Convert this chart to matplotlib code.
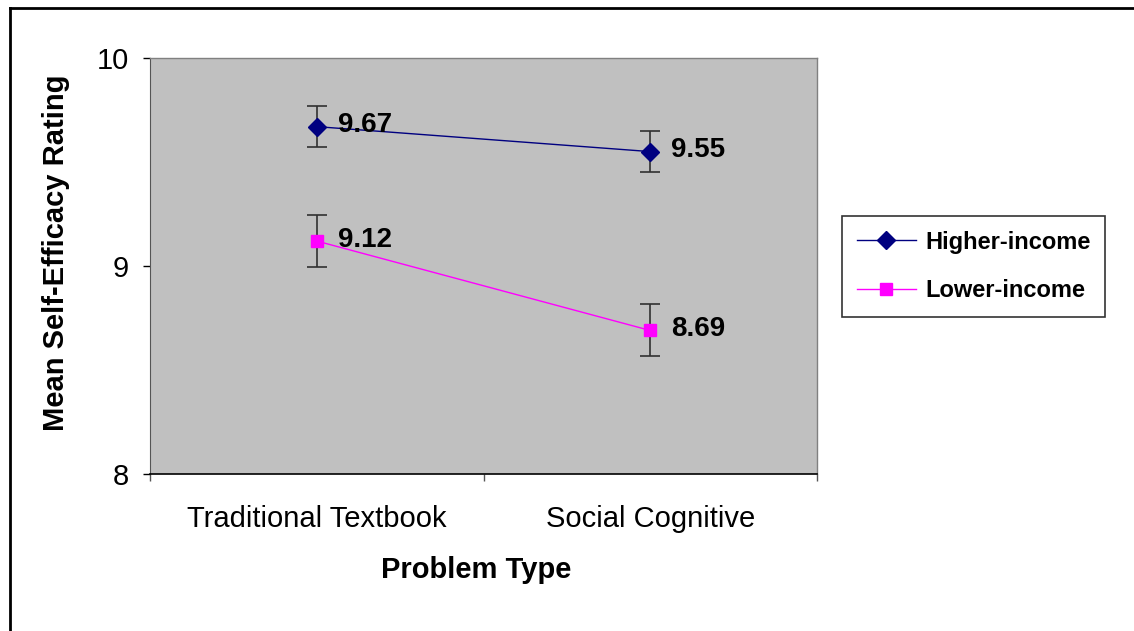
import matplotlib
matplotlib.use("Agg")
import matplotlib.pyplot as plt
from matplotlib.lines import Line2D

plt.rcParams['font.family'] = ['Liberation Sans', 'DejaVu Sans']

categories = ["Traditional Textbook", "Social Cognitive"]
series_names = ["Higher-income", "Lower-income"]
higher_vals = [9.67, 9.55]
lower_vals = [9.12, 8.69]
higher_err = [0.10, 0.10]
lower_err = [0.125, 0.125]
y_ticks = [8, 9, 10]

fig = plt.figure(figsize=(11.34, 6.31), dpi=100)
ax = fig.add_axes([150/1134, 1-474/631, (817-150)/1134, (474-58)/631])
ax.set_facecolor('#C0C0C0')

x = list(range(len(categories)))

ax.errorbar(x, higher_vals, yerr=higher_err, fmt='none', ecolor='#303030',
            elinewidth=1.2, capsize=7, capthick=1.2, zorder=2)
ax.errorbar(x, lower_vals, yerr=lower_err, fmt='none', ecolor='#303030',
            elinewidth=1.2, capsize=7, capthick=1.2, zorder=2)
ax.plot(x, higher_vals, color='#000080', lw=1, marker='D', markersize=9,
        markerfacecolor='#000080', markeredgecolor='#000080', label=series_names[0], zorder=3)
ax.plot(x, lower_vals, color='#FF00FF', lw=1, marker='s', markersize=9,
        markerfacecolor='#FF00FF', markeredgecolor='#FF00FF', label=series_names[1], zorder=3)

for vals in (higher_vals, lower_vals):
    for xi, v in zip(x, vals):
        ax.annotate(f"{v:.2f}", (xi, v), xytext=(15, 1), textcoords='offset points',
                    fontsize=20, fontweight='bold', va='center', ha='left', zorder=4)

ax.set_xlim(-0.5, len(categories) - 0.5)
ax.set_ylim(8, 10)
ax.set_yticks(y_ticks)
ax.set_yticklabels([str(t) for t in y_ticks], fontsize=21)
ax.tick_params(axis='y', length=5, width=1, pad=10, color='black')
ax.set_xticks(x)
ax.set_xticklabels(categories, fontsize=21)
ax.tick_params(axis='x', which='major', length=0, pad=22)
ax.set_xticks([i - 0.5 for i in range(len(categories) + 1)], minor=True)
ax.tick_params(axis='x', which='minor', length=5, width=1, color='#555555')

for s in ['top', 'right']:
    ax.spines[s].set_color('#808080')
    ax.spines[s].set_linewidth(1)
ax.spines['left'].set_color('#555555')
ax.spines['bottom'].set_color('black')
ax.spines['bottom'].set_linewidth(1.2)

ax.set_xlabel("Problem Type", fontsize=21, fontweight='bold')
ax.set_ylabel("Mean Self-Efficacy Rating", fontsize=21, fontweight='bold')
ax.xaxis.set_label_coords((476-150)/667, (474-556)/416)
ax.yaxis.set_label_coords((70-150)/667, 0.532)

leg = fig.legend(loc='upper left', bbox_to_anchor=(842/1134, 1-216/631),
                 prop={'weight': 'bold', 'size': 17},
                 frameon=True, fancybox=False, edgecolor='black',
                 handlelength=2.5, handletextpad=0.4, borderpad=0.62,
                 labelspacing=1.08, borderaxespad=0)
leg.get_frame().set_linewidth(1.2)

fig.add_artist(Line2D([10/1134, 1], [1-8/631, 1-8/631], color='black', lw=2, transform=fig.transFigure))
fig.add_artist(Line2D([10/1134, 10/1134], [0, 1-8/631], color='black', lw=2, transform=fig.transFigure))

fig.savefig("out.png", dpi=100, facecolor='white')
